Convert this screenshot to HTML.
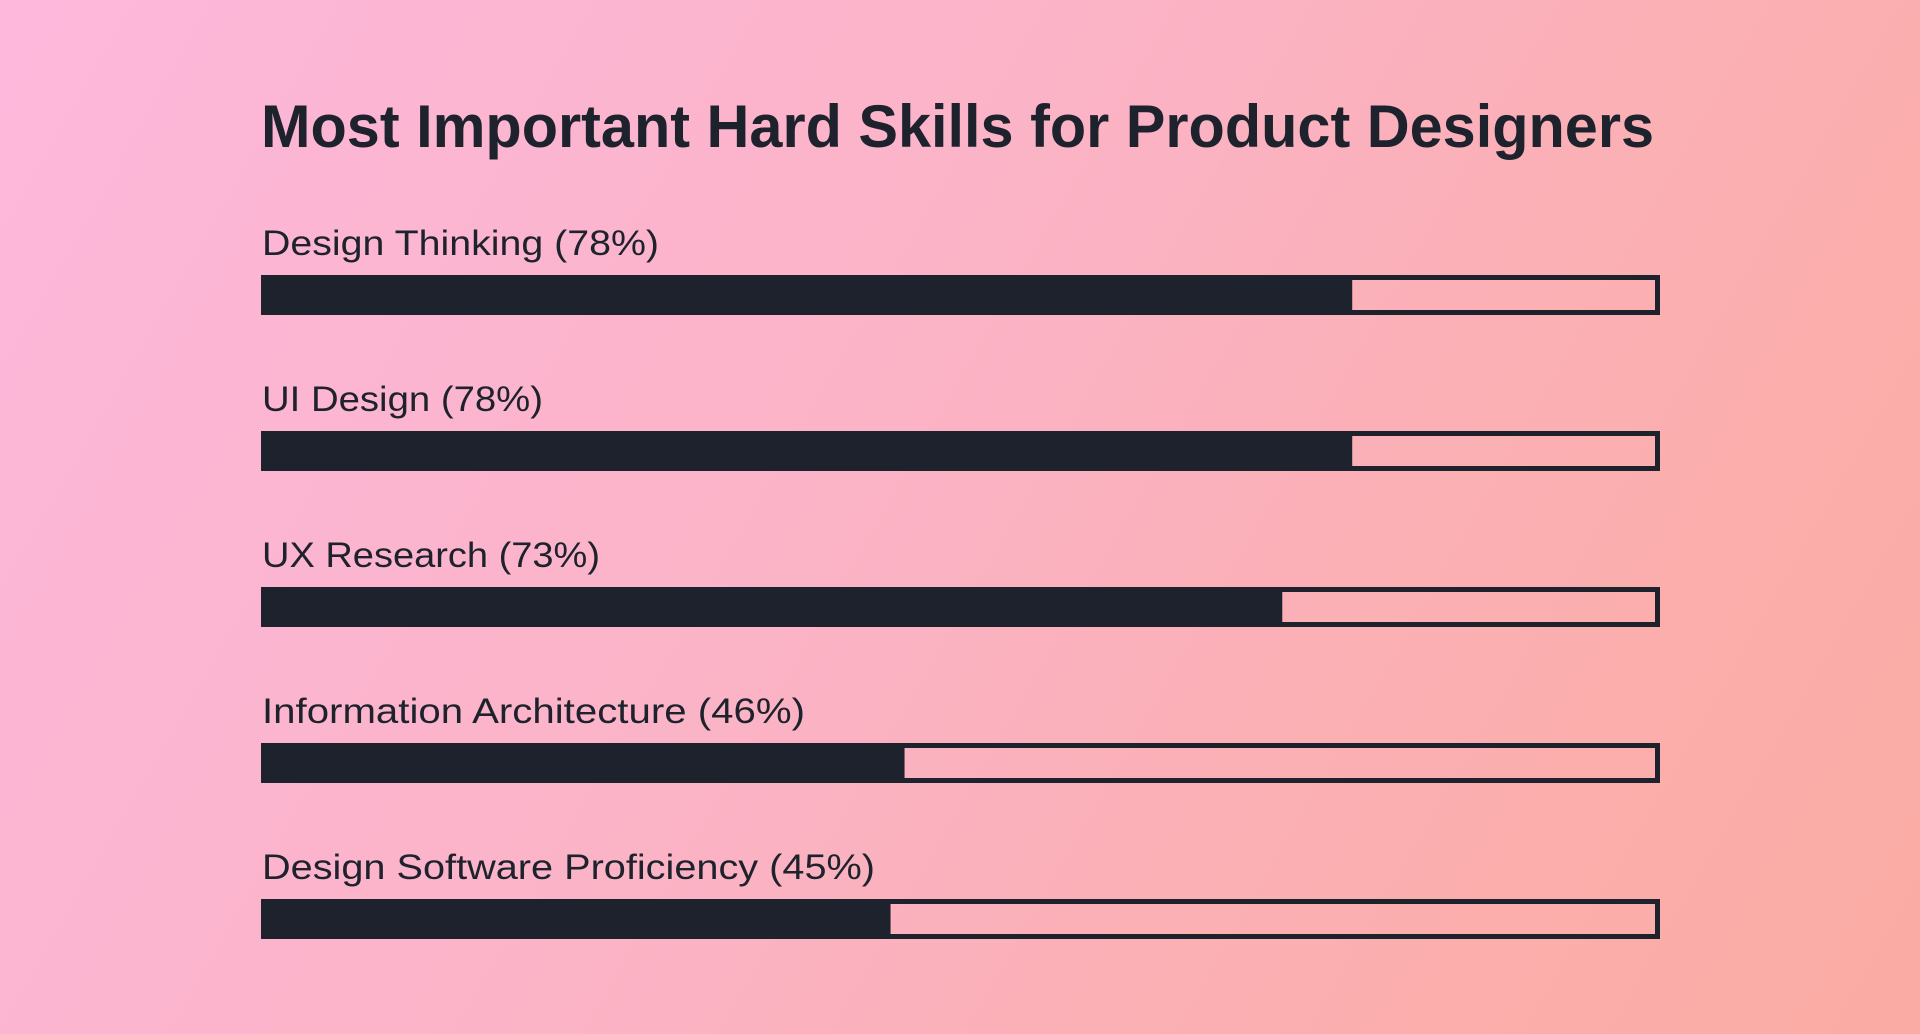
<!DOCTYPE html>
<html><head><meta charset="utf-8"><style>
html,body{margin:0;padding:0;width:1920px;height:1034px;overflow:hidden}
body{background:linear-gradient(120deg,#fdb8dc 0%,#fbb3c6 45%,#fbaeac 80%,#faaba3 100%)}
svg{display:block}
text{font-family:"Liberation Sans",sans-serif;fill:#1e222c}
</style></head><body>
<svg id="chart" width="1920" height="1034">
<text x="261" y="147" font-size="60" font-weight="bold" textLength="1393" lengthAdjust="spacingAndGlyphs">Most Important Hard Skills for Product Designers</text>
</svg>
<script>
const categories=["Design Thinking","UI Design","UX Research","Information Architecture","Design Software Proficiency"];
const values=[78,78,73,46,45];
const labelWidths=[397,281,338,543,613];
const svg=document.getElementById('chart');
const NS='http://www.w3.org/2000/svg';
const x0=261,W=1399,y0=275,step=156,H=40;
const xScale=v=>x0+W*v/100;
const yPos=i=>y0+i*step;
categories.forEach((c,i)=>{
  const y=yPos(i);
  const t=document.createElementNS(NS,'text');
  t.setAttribute('x',x0+1);t.setAttribute('y',y-20);
  t.setAttribute('font-size','35');
  t.setAttribute('textLength',labelWidths[i]);
  t.setAttribute('lengthAdjust','spacingAndGlyphs');
  t.textContent=c+' ('+values[i]+'%)';
  
  
  svg.appendChild(t);
  const o=document.createElementNS(NS,'rect');
  o.setAttribute('x',x0+2.5);o.setAttribute('y',y+2.5);
  o.setAttribute('width',W-5);o.setAttribute('height',H-5);
  o.setAttribute('fill','none');o.setAttribute('stroke','#1e222c');o.setAttribute('stroke-width','5');
  
  
  svg.appendChild(o);
  const r=document.createElementNS(NS,'rect');
  r.setAttribute('x',x0);r.setAttribute('y',y);
  r.setAttribute('width',xScale(values[i])-x0);r.setAttribute('height',H);
  r.setAttribute('fill','#1e222c');
  
  
  svg.appendChild(r);
});
</script>
</body></html>
